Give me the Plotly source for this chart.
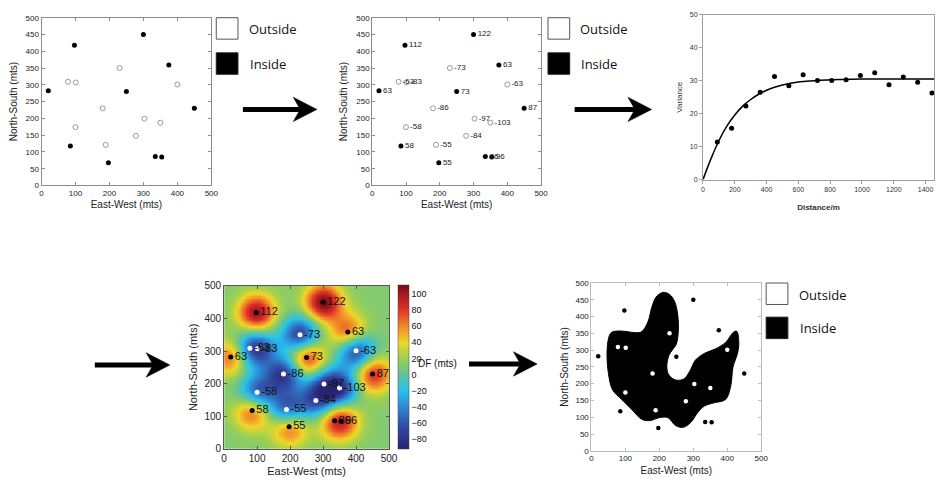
import numpy as np
import plotly.graph_objects as go

W, H = 943, 488

# ---------------- data ----------------
in_x = [97, 300, 375, 20, 250, 450, 85, 197, 335, 354]
in_y = [418, 450, 359, 282, 280, 230, 118, 68, 86, 85]
in_df = [112, 122, 63, 63, 73, 87, 58, 55, 86, 96]

out_x = [78, 101, 230, 400, 180, 303, 350, 100, 278, 189]
out_y = [309, 307, 350, 301, 230, 199, 187, 174, 148, 121]
out_df = [-63, -83, -73, -63, -86, -97, -103, -58, -84, -55]

lag_dist = [90, 180, 270, 360, 450, 540, 630, 720, 810, 900, 990, 1080, 1170, 1260, 1350, 1440]
semivar = [11.4, 15.6, 22.3, 26.5, 31.3, 28.5, 31.8, 30.1, 30.1, 30.3, 31.6, 32.4, 28.8, 31.1, 29.5, 26.3]

model_dist = [0, 50, 100, 150, 200, 250, 300, 350, 400, 450, 500, 600, 700, 800, 900, 1000, 1200, 1460]
model_var = [0, 6.3, 11.8, 16.2, 19.6, 22.3, 24.3, 25.9, 27.1, 28.0, 28.7, 29.6, 30.0, 30.3, 30.4, 30.5, 30.5, 30.5]

# boundary of the "Inside" (black) zone
zone_x = [211, 230, 245, 254, 256, 250, 238, 228, 222, 228, 248, 272, 290, 306, 334, 366, 395,
          419, 428, 434, 430, 417, 410, 395, 361, 332, 313, 293, 270, 248, 225, 201, 172, 148,
          118, 89, 62, 50, 46, 49, 58, 80, 105, 128, 148, 167, 177, 191, 211]
zone_y = [472, 466, 445, 406, 360, 318, 300, 284, 250, 226, 211, 214, 238, 270, 291, 304, 323,
          354, 356, 318, 290, 250, 192, 153, 143, 133, 114, 85, 70, 75, 99, 99, 90, 94,
          124, 153, 182, 231, 279, 328, 352, 357, 355, 352, 355, 386, 425, 459, 472]

# ---------------- kriged DF surface from the points ----------------
all_x = np.array(in_x + out_x, float)
all_y = np.array(in_y + out_y, float)
all_v = np.array(in_df + out_df, float)
L = 56.0
mean_df = 12.0
dmat = np.hypot(all_x[:, None] - all_x[None, :], all_y[:, None] - all_y[None, :])
C = np.exp(-(dmat / L) ** 2) + 0.12 * np.eye(len(all_x))
wts = np.linalg.solve(C, all_v - mean_df)
g = np.linspace(0, 500, 126)
GX, GY = np.meshgrid(g, g)
dg = np.hypot(GX[..., None] - all_x, GY[..., None] - all_y)
Z = mean_df + np.exp(-(dg / L) ** 2) @ wts

# ---------------- helpers ----------------
def fx(p):
    return p / W

def fy(p):
    return 1 - p / H

FONT = "Liberation Sans, Arial, sans-serif"
LEGFONT = "Open Sans, Liberation Sans, sans-serif"

fig = go.Figure()

# Panel 1
fig.add_trace(go.Scatter(x=out_x, y=out_y, mode="markers", xaxis="x", yaxis="y",
                         marker=dict(symbol="circle-open", size=5, color="#9a9a9a", line=dict(width=1))))
fig.add_trace(go.Scatter(x=in_x, y=in_y, mode="markers", xaxis="x", yaxis="y",
                         marker=dict(size=5, color="black")))

# Panel 2
fig.add_trace(go.Scatter(x=out_x, y=out_y, mode="markers+text", xaxis="x2", yaxis="y2",
                         text=[str(v) for v in out_df], textposition="middle right",
                         textfont=dict(size=8, color="#222", family=FONT),
                         marker=dict(symbol="circle-open", size=5, color="#9a9a9a", line=dict(width=1))))
fig.add_trace(go.Scatter(x=in_x, y=in_y, mode="markers+text", xaxis="x2", yaxis="y2",
                         text=[str(v) for v in in_df], textposition="middle right",
                         textfont=dict(size=8, color="#222", family=FONT),
                         marker=dict(size=5, color="black")))

# Panel 3: variogram
fig.add_trace(go.Scatter(x=model_dist, y=model_var, mode="lines", xaxis="x3", yaxis="y3",
                         line=dict(color="black", width=1.5, shape="spline")))
fig.add_trace(go.Scatter(x=lag_dist, y=semivar, mode="markers", xaxis="x3", yaxis="y3",
                         marker=dict(size=5, color="black")))

# Panel 4: DF surface
cscale = [
    [0.00, "rgb(40,35,110)"],
    [0.06, "rgb(45,50,140)"],
    [0.16, "rgb(50,85,170)"],
    [0.26, "rgb(45,140,215)"],
    [0.36, "rgb(40,195,235)"],
    [0.45, "rgb(95,195,155)"],
    [0.56, "rgb(160,208,80)"],
    [0.65, "rgb(240,215,40)"],
    [0.75, "rgb(240,135,40)"],
    [0.85, "rgb(225,50,40)"],
    [0.94, "rgb(170,25,30)"],
    [1.00, "rgb(110,15,20)"],
]
fig.add_trace(go.Heatmap(x=g, y=g, z=Z, xaxis="x4", yaxis="y4", zmin=-92, zmax=111,
                         zsmooth="best", colorscale=cscale,
                         colorbar=dict(x=fx(400), xanchor="left", y=fy(454), yanchor="bottom",
                                       len=(454 - 286) / H, lenmode="fraction", thickness=11,
                                       thicknessmode="pixels", outlinewidth=0.5, outlinecolor="#444",
                                       tickvals=list(range(-80, 101, 20)), ticks="",
                                       tickfont=dict(size=9, family=FONT, color="#111"), xpad=0, ypad=0)))
fig.add_trace(go.Scatter(x=out_x, y=out_y, mode="markers+text", xaxis="x4", yaxis="y4",
                         text=[str(v) for v in out_df], textposition="middle right",
                         textfont=dict(size=11, color="#111", family=FONT),
                         marker=dict(size=5, color="white")))
fig.add_trace(go.Scatter(x=in_x, y=in_y, mode="markers+text", xaxis="x4", yaxis="y4",
                         text=[str(v) for v in in_df], textposition="middle right",
                         textfont=dict(size=11, color="#111", family=FONT),
                         marker=dict(size=5, color="black")))

# Panel 5: inside zone
fig.add_trace(go.Scatter(x=zone_x, y=zone_y, mode="lines", xaxis="x5", yaxis="y5", fill="toself",
                         fillcolor="black", line=dict(color="black", width=1, shape="spline", smoothing=1.0)))
fig.add_trace(go.Scatter(x=out_x, y=out_y, mode="markers", xaxis="x5", yaxis="y5",
                         marker=dict(size=4.5, color="white")))
fig.add_trace(go.Scatter(x=in_x, y=in_y, mode="markers", xaxis="x5", yaxis="y5",
                         marker=dict(size=4.5, color="black")))


def mat_axis(x0, x1, rng, dtick, title, size, color="#8c8c8c", tsize=10, standoff=4, anchor=None, horiz=True):
    d = dict(domain=[fx(x0), fx(x1)] if horiz else [fy(x1), fy(x0)], range=rng, dtick=dtick,
             showline=True, linecolor=color, linewidth=1, mirror="ticks", ticks="inside",
             ticklen=3, tickcolor=color, showgrid=False, zeroline=False,
             tickfont=dict(size=size, family=FONT, color="#222"),
             title=dict(text=title, font=dict(size=tsize, family=FONT, color="#222"), standoff=standoff))
    if anchor:
        d["anchor"] = anchor
    return d


layout = dict(
    width=W, height=H, margin=dict(l=0, r=0, t=0, b=0), showlegend=False,
    paper_bgcolor="white", plot_bgcolor="white",
    xaxis=mat_axis(39, 211, [0, 500], 100, "East-West (mts)", 8, anchor="y", standoff=3),
    yaxis=mat_axis(12, 184, [0, 500], 50, "North-South (mts)", 8, anchor="x", horiz=False, standoff=6),
    xaxis2=mat_axis(374, 545, [0, 500], 100, "East-West (mts)", 8, anchor="y2", standoff=3),
    yaxis2=mat_axis(12, 184, [0, 500], 50, "North-South (mts)", 8, anchor="x2", horiz=False, standoff=6),
    xaxis4=mat_axis(224, 391, [0, 500], 100, "East-West (mts)", 10, color="#555", tsize=11, anchor="y4"),
    yaxis4=mat_axis(287, 454, [0, 500], 100, "North-South (mts)", 10, color="#555", tsize=11, anchor="x4", horiz=False),
    xaxis5=mat_axis(596, 768, [0, 500], 100, "East-West (mts)", 8, color="#bbbbbb", anchor="y5"),
    yaxis5=mat_axis(284, 456, [0, 500], 50, "North-South (mts)", 8, color="#bbbbbb", anchor="x5", horiz=False),
    xaxis3=dict(domain=[fx(709), 1.0], range=[0, 1453], dtick=200, anchor="y3", showline=True,
                linecolor="#a0a0a0", mirror=True, ticks="outside", ticklen=3, tickcolor="#a0a0a0",
                showgrid=False, zeroline=False, tickfont=dict(size=7, family=FONT, color="#333"),
                title=dict(text="<b>Distance/m</b>", font=dict(size=8, family=FONT, color="#333"), standoff=12)),
    yaxis3=dict(domain=[fy(178), fy(9)], range=[0, 50], dtick=10, anchor="x3", showline=True,
                linecolor="#a0a0a0", mirror=True, ticks="outside", ticklen=3, tickcolor="#a0a0a0",
                showgrid=False, zeroline=False, tickfont=dict(size=7, family=FONT, color="#333"),
                title=dict(text="Variance", font=dict(size=8, family=FONT, color="#333"), standoff=5)),
)
fig.update_layout(**layout)

shapes = []
annotations = []

# legends
for sx, tx, ys in [(216, 247, (12, 48)), (552, 582, (12, 48)), (773, 804, (284, 319))]:
    yo, yi = ys
    shapes.append(dict(type="rect", xref="paper", yref="paper", x0=fx(sx), x1=fx(sx + 22),
                       y0=fy(yo + 22), y1=fy(yo), line=dict(color="#555", width=1), fillcolor="white"))
    shapes.append(dict(type="rect", xref="paper", yref="paper", x0=fx(sx), x1=fx(sx + 22),
                       y0=fy(yi + 22), y1=fy(yi), line=dict(color="#222", width=1), fillcolor="black"))
    annotations.append(dict(text="Outside", xref="paper", yref="paper", x=fx(tx), y=fy(yo + 12),
                            xanchor="left", yanchor="middle", showarrow=False,
                            font=dict(size=13, family=LEGFONT, color="#111")))
    annotations.append(dict(text="Inside", xref="paper", yref="paper", x=fx(tx + 1), y=fy(yi + 11),
                            xanchor="left", yanchor="middle", showarrow=False,
                            font=dict(size=13, family=LEGFONT, color="#111")))

# arrows
for x0, x1, yy in [(243, 318, 106), (579, 657, 106), (93, 169, 368), (472, 541, 367)]:
    shapes.append(dict(type="line", xref="paper", yref="paper", x0=fx(x0), x1=fx(x1 - 14),
                       y0=fy(yy), y1=fy(yy), line=dict(color="black", width=5)))
    path = "M {:.5f} {:.5f} L {:.5f} {:.5f} L {:.5f} {:.5f} L {:.5f} {:.5f} Z".format(
        fx(x1), fy(yy), fx(x1 - 24), fy(yy - 12.5), fx(x1 - 17), fy(yy), fx(x1 - 24), fy(yy + 12.5))
    shapes.append(dict(type="path", xref="paper", yref="paper", path=path,
                       fillcolor="black", line=dict(color="black", width=0.5)))

annotations.append(dict(text="DF (mts)", xref="paper", yref="paper", x=fx(418), y=fy(367),
                        xanchor="left", yanchor="middle", showarrow=False,
                        font=dict(size=10, family=FONT, color="#111")))

fig.update_layout(shapes=shapes, annotations=annotations)
fig.write_html("out.html")
